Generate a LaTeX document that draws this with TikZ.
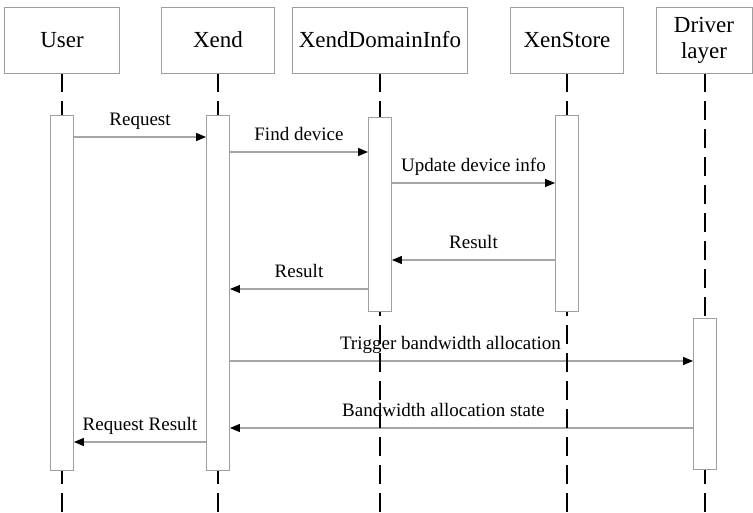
\documentclass[tikz,border=0pt]{standalone}
\usepackage{fontspec}
\setmainfont{Liberation Serif}
\usetikzlibrary{arrows.meta,backgrounds}

\begin{document}
\begin{tikzpicture}[x=1pt,y=-1pt,
  actor/.style={draw=gray!75,line width=0.9pt,minimum height=66pt,inner sep=0pt,align=center,font=\fontsize{23}{26}\selectfont},
  bar/.style={draw=gray!75,line width=0.9pt,fill=white,minimum width=23pt,inner sep=0pt},
  msg/.style={draw=gray!70,line width=1.1pt,-{Triangle[length=10pt,width=8pt,color=black]}},
  lbl/.style={font=\fontsize{19}{21}\selectfont,inner sep=0pt,text height=13pt,text depth=4pt,above=7pt},
  life/.style={black,line width=2.8pt,dash pattern=on 19pt off 9pt}]
\useasboundingbox (0,0) rectangle (753,513);
\node [actor,minimum width=115pt] (user) at (62,40) {User};
\node [actor,minimum width=113pt] (xend) at (218,40) {Xend};
\node [actor,minimum width=175pt] (xdi) at (380,40) {XendDomainInfo};
\node [actor,minimum width=113pt] (store) at (567,40) {XenStore};
\node [actor,minimum width=96pt] (drv) at (704,40) {Driver\\layer};
\node [bar,minimum height=355pt] (userbar) at (62,292.5) {};
\node [bar,minimum height=355pt] (xendbar) at (218,292.5) {};
\node [bar,minimum height=194pt] (xdibar) at (380,214) {};
\node [bar,minimum height=196pt] (storebar) at (567,213) {};
\node [bar,minimum height=151pt] (drvbar) at (705,393.5) {};
\begin{scope}[on background layer]
\draw [msg] (userbar.east |- 0,137) -- (xendbar.west |- 0,137) node [midway,lbl] {Request};
\draw [msg] (xendbar.east |- 0,152) -- (xdibar.west |- 0,152) node [midway,lbl] {Find device};
\draw [msg] (xdibar.east |- 0,183) -- (storebar.west |- 0,183) node [midway,lbl] {Update device info};
\draw [msg] (storebar.west |- 0,260) -- (xdibar.east |- 0,260) node [midway,lbl] {Result};
\draw [msg] (xdibar.west |- 0,289) -- (xendbar.east |- 0,289) node [midway,lbl] {Result};
\draw [msg] (xendbar.east |- 0,361) -- (drvbar.west |- 0,361) node [midway,lbl,xshift=-11pt] {Trigger bandwidth allocation};
\draw [msg] (drvbar.west |- 0,428) -- (xendbar.east |- 0,428) node [midway,lbl,xshift=-18pt] {Bandwidth allocation state};
\draw [msg] (xendbar.west |- 0,442) -- (userbar.east |- 0,442) node [midway,lbl] {Request Result};
\draw [life] (user.south) -- (user.south |- 0,513);
\draw [life] (xend.south) -- (xend.south |- 0,513);
\draw [life] (xdi.south) -- (xdi.south |- 0,513);
\draw [life] (store.south) -- (store.south |- 0,513);
\draw [life] (drvbar.north |- drv.south) -- (drvbar.south |- 0,513);
\end{scope}
\end{tikzpicture}
\end{document}
